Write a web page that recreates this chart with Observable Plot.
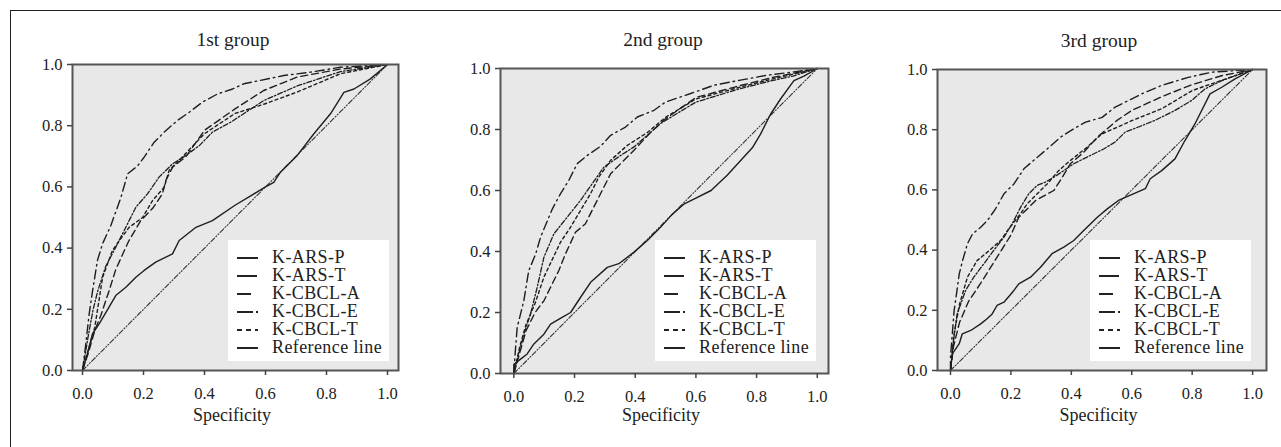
<!DOCTYPE html>
<html><head><meta charset="utf-8">
<script src="https://cdn.jsdelivr.net/npm/d3@7"></script>
<script src="https://cdn.jsdelivr.net/npm/@observablehq/plot@0.6"></script>
<style>
body{margin:0;background:#fff;}
#root{position:relative;width:1281px;height:447px;overflow:hidden;font-family:'Liberation Serif','Times New Roman',serif;color:#222;}
.frameline{position:absolute;left:10px;top:10px;width:1300px;height:460px;border-left:1.5px solid #222;border-top:1.5px solid #222;}
.lbl{position:absolute;font-size:18px;transform:translate(-50%,-50%);white-space:nowrap;}
.ttl{font-size:19.5px;}
.legend{position:absolute;background:#fff;width:161px;height:121px;}
.row{position:absolute;height:18px;font-size:18px;line-height:18px;white-space:nowrap;letter-spacing:0.4px;}
.plot{position:absolute;}
.plot text{font-family:'Liberation Serif','Times New Roman',serif;font-size:16.5px;}
</style></head><body><div id="root"><div class="frameline"></div></div>
<script>
const tickValues = [0, 0.2, 0.4, 0.6, 0.8, 1.0];
const groupTitles = ["1st group", "2nd group", "3rd group"];
const xLabel = "Specificity";
const seriesNames = ["K-ARS-P", "K-ARS-T", "K-CBCL-A", "K-CBCL-E", "K-CBCL-T", "Reference line"];
const referenceLine = [[0,0],[1,1]];

const g1_arsP = [[0,0],[0.016,0.055],[0.033,0.12],[0.055,0.153],[0.087,0.207],[0.109,0.245],[0.142,0.272],[0.175,0.305],[0.202,0.327],[0.24,0.354],[0.295,0.381],[0.317,0.425],[0.372,0.468],[0.426,0.49],[0.5,0.54],[0.55,0.57],[0.6,0.6],[0.627,0.615],[0.649,0.648],[0.704,0.703],[0.758,0.773],[0.813,0.839],[0.857,0.909],[0.89,0.92],[0.944,0.953],[1,1]];
const g1_arsT = [[0,0],[0.01,0.06],[0.02,0.12],[0.035,0.2],[0.05,0.26],[0.076,0.34],[0.109,0.403],[0.142,0.468],[0.175,0.534],[0.213,0.577],[0.251,0.632],[0.295,0.675],[0.339,0.703],[0.383,0.735],[0.426,0.779],[0.485,0.811],[0.594,0.882],[0.704,0.93],[0.846,0.977],[1,1]];
const g1_cbclA = [[0,0],[0.02,0.06],[0.04,0.13],[0.06,0.18],[0.087,0.26],[0.109,0.33],[0.15,0.42],[0.191,0.49],[0.23,0.53],[0.262,0.577],[0.273,0.621],[0.295,0.664],[0.34,0.7],[0.4,0.785],[0.5,0.855],[0.594,0.915],[0.704,0.959],[0.846,0.985],[1,1]];
const g1_cbclE = [[0,0],[0.01,0.08],[0.022,0.186],[0.033,0.26],[0.049,0.36],[0.066,0.415],[0.093,0.474],[0.126,0.566],[0.148,0.643],[0.18,0.668],[0.202,0.697],[0.235,0.746],[0.268,0.779],[0.311,0.817],[0.35,0.844],[0.393,0.877],[0.443,0.904],[0.492,0.92],[0.529,0.937],[0.66,0.964],[0.748,0.975],[0.846,0.991],[1,1]];
const g1_cbclT = [[0,0],[0.02,0.07],[0.04,0.14],[0.066,0.305],[0.098,0.392],[0.125,0.43],[0.153,0.468],[0.197,0.5],[0.23,0.556],[0.268,0.599],[0.284,0.654],[0.32,0.69],[0.4,0.774],[0.5,0.84],[0.594,0.87],[0.704,0.91],[0.846,0.97],[1,1]];

const g2_arsP = [[0,0],[0,0.03],[0.022,0.047],[0.044,0.064],[0.066,0.097],[0.099,0.129],[0.121,0.162],[0.159,0.184],[0.187,0.2],[0.22,0.25],[0.253,0.299],[0.308,0.348],[0.346,0.36],[0.396,0.398],[0.44,0.436],[0.484,0.48],[0.52,0.52],[0.56,0.555],[0.6,0.575],[0.65,0.6],[0.703,0.65],[0.758,0.71],[0.786,0.74],[0.813,0.785],[0.846,0.85],[0.879,0.9],[0.923,0.96],[0.956,0.975],[1,1]];
const g2_arsT = [[0,0],[0.02,0.08],[0.04,0.15],[0.055,0.195],[0.077,0.283],[0.099,0.381],[0.132,0.458],[0.176,0.513],[0.22,0.568],[0.258,0.622],[0.297,0.677],[0.352,0.715],[0.396,0.743],[0.44,0.781],[0.484,0.82],[0.55,0.86],[0.6,0.89],[0.75,0.935],[0.85,0.96],[0.92,0.975],[1,1]];
const g2_cbclA = [[0,0],[0.02,0.07],[0.04,0.14],[0.07,0.2],[0.1,0.24],[0.121,0.283],[0.148,0.337],[0.17,0.392],[0.203,0.463],[0.236,0.491],[0.258,0.535],[0.286,0.59],[0.319,0.655],[0.396,0.732],[0.45,0.79],[0.5,0.835],[0.6,0.905],[0.75,0.945],[0.85,0.97],[1,1]];
const g2_cbclE = [[0,0],[0.005,0.075],[0.011,0.151],[0.033,0.239],[0.049,0.337],[0.072,0.392],[0.088,0.447],[0.127,0.54],[0.154,0.59],[0.181,0.633],[0.209,0.688],[0.242,0.715],[0.286,0.745],[0.319,0.781],[0.368,0.808],[0.407,0.841],[0.462,0.863],[0.5,0.89],[0.583,0.918],[0.659,0.945],[0.747,0.962],[0.835,0.978],[0.923,0.989],[1,1]];
const g2_cbclT = [[0,0],[0.02,0.09],[0.04,0.16],[0.07,0.23],[0.099,0.316],[0.154,0.431],[0.187,0.48],[0.22,0.535],[0.253,0.59],[0.28,0.644],[0.319,0.699],[0.374,0.748],[0.44,0.79],[0.5,0.84],[0.6,0.9],[0.75,0.94],[0.85,0.965],[1,1]];

const g3_arsP = [[0,0],[0.006,0.055],[0.029,0.089],[0.039,0.122],[0.067,0.133],[0.1,0.155],[0.121,0.172],[0.138,0.188],[0.154,0.216],[0.177,0.227],[0.21,0.266],[0.226,0.288],[0.265,0.31],[0.298,0.343],[0.336,0.388],[0.375,0.41],[0.408,0.432],[0.441,0.465],[0.486,0.509],[0.519,0.537],[0.556,0.565],[0.645,0.604],[0.661,0.637],[0.699,0.664],[0.743,0.703],[0.776,0.764],[0.809,0.819],[0.859,0.919],[0.898,0.941],[0.942,0.969],[1,1]];
const g3_arsT = [[0,0],[0.01,0.1],[0.022,0.188],[0.05,0.266],[0.077,0.31],[0.11,0.354],[0.143,0.399],[0.177,0.443],[0.204,0.487],[0.232,0.542],[0.259,0.587],[0.287,0.615],[0.314,0.626],[0.342,0.642],[0.375,0.664],[0.408,0.687],[0.452,0.709],[0.507,0.736],[0.545,0.759],[0.578,0.792],[0.622,0.809],[0.677,0.831],[0.743,0.864],[0.798,0.897],[0.843,0.936],[0.898,0.963],[1,1]];
const g3_cbclA = [[0,0],[0.01,0.08],[0.03,0.16],[0.06,0.23],[0.1,0.29],[0.15,0.37],[0.2,0.45],[0.226,0.509],[0.282,0.565],[0.342,0.598],[0.37,0.642],[0.397,0.687],[0.441,0.725],[0.486,0.775],[0.55,0.83],[0.6,0.864],[0.7,0.91],[0.8,0.95],[0.9,0.98],[1,1]];
const g3_cbclE = [[0,0],[0,0.044],[0.012,0.199],[0.023,0.277],[0.029,0.321],[0.04,0.365],[0.056,0.421],[0.073,0.454],[0.1,0.476],[0.122,0.498],[0.149,0.537],[0.177,0.587],[0.21,0.62],[0.243,0.67],[0.281,0.703],[0.32,0.736],[0.364,0.775],[0.408,0.803],[0.447,0.825],[0.502,0.841],[0.545,0.875],[0.633,0.919],[0.699,0.947],[0.787,0.974],[0.864,0.991],[1,1]];
const g3_cbclT = [[0,0],[0.012,0.122],[0.03,0.22],[0.056,0.31],[0.088,0.365],[0.13,0.4],[0.166,0.432],[0.193,0.471],[0.232,0.521],[0.254,0.554],[0.287,0.587],[0.32,0.62],[0.358,0.664],[0.397,0.698],[0.45,0.74],[0.5,0.785],[0.6,0.83],[0.7,0.87],[0.8,0.93],[0.9,0.965],[1,1]];

const lineStyles = [
  {dash: null, width: 1.4},
  {dash: "5,2,1.5,2", width: 1.3},
  {dash: "7,4", width: 1.4},
  {dash: "9,4,1.5,4", width: 1.4},
  {dash: "3,3", width: 1.4},
  {dash: "5,2,1,2,1,2", width: 1.1}
];
const legendSwatch = [
  {dash: null, len: 21},
  {dash: null, len: 20},
  {dash: null, len: 14},
  {dash: "16,3,2,3", len: 21},
  {dash: "5,4", len: 21},
  {dash: null, len: 21}
];

const panels = [
  {series: [g1_arsP, g1_arsT, g1_cbclA, g1_cbclE, g1_cbclT], left: 12, top: 54, width: 398, height: 360, mL: 60, mR: 12, mT: 10, mB: 44, xdom: [-0.0328, 1.036], legL: 228, legT: 240, titleX: 233, titleY: 40},
  {series: [g2_arsP, g2_arsT, g2_cbclA, g2_cbclE, g2_cbclT], left: 440, top: 58, width: 400, height: 360, mL: 60, mR: 12, mT: 10, mB: 45, xdom: [-0.044, 1.037], legL: 655, legT: 240, titleX: 663, titleY: 40},
  {series: [g3_arsP, g3_arsT, g3_cbclA, g3_cbclE, g3_cbclT], left: 877, top: 59, width: 401, height: 360, mL: 60, mR: 12, mT: 10, mB: 49, xdom: [-0.043, 1.046], legL: 1090, legT: 240, titleX: 1099, titleY: 41}
];

const root = document.getElementById("root");
const fmt = d3.format(".1f");

panels.forEach((p, i) => {
  const lines = p.series.map((s, k) => Plot.line(s, {
    x: d => d[0], y: d => d[1],
    stroke: "#1e1e1e", strokeWidth: lineStyles[k].width,
    strokeDasharray: lineStyles[k].dash || undefined
  }));
  const chart = Plot.plot({
    width: p.width, height: p.height,
    marginLeft: p.mL, marginRight: p.mR, marginTop: p.mT, marginBottom: p.mB,
    x: {domain: p.xdom},
    y: {domain: [0, 1]},
    style: {fontSize: "16.5px", color: "#222", background: "transparent", overflow: "visible"},
    marks: [
      Plot.frame({fill: "#e8e8e8"}),
      Plot.line(referenceLine, {x: d => d[0], y: d => d[1], stroke: "#333", strokeWidth: lineStyles[5].width, strokeDasharray: lineStyles[5].dash}),
      ...lines,
      Plot.frame({stroke: "#555", strokeWidth: 2}),
      Plot.axisX({ticks: tickValues, tickFormat: fmt, tickSize: 5, tickPadding: 12, label: null, stroke: "#444", strokeWidth: 1.5}),
      Plot.axisY({ticks: tickValues, tickFormat: fmt, tickSize: 5, tickPadding: 5, label: null, stroke: "#444", strokeWidth: 1.5})
    ]
  });
  chart.classList.add("plot");
  chart.style.left = p.left + "px";
  chart.style.top = p.top + "px";
  root.appendChild(chart);

  const t = document.createElement("div");
  t.className = "lbl ttl"; t.textContent = groupTitles[i];
  t.style.left = p.titleX + "px"; t.style.top = p.titleY + "px";
  root.appendChild(t);

  const frameCx = p.left + p.mL + (p.width - p.mL - p.mR) / 2;
  const xl = document.createElement("div");
  xl.className = "lbl"; xl.textContent = xLabel;
  xl.style.left = (frameCx - 3) + "px"; xl.style.top = "415px";
  root.appendChild(xl);

  const leg = document.createElement("div");
  leg.className = "legend";
  leg.style.left = p.legL + "px"; leg.style.top = p.legT + "px";
  seriesNames.forEach((name, k) => {
    const row = document.createElement("div");
    row.className = "row";
    row.style.left = "9px"; row.style.top = (9 + k * 18) + "px";
    const sw = legendSwatch[k];
    row.innerHTML = `<svg width="24" height="18" style="position:absolute;left:0;top:0"><line x1="0" x2="${sw.len}" y1="9" y2="9" stroke="#222" stroke-width="2" ${sw.dash ? `stroke-dasharray="${sw.dash}"` : ""}/></svg><span style="position:absolute;left:35px;top:-1px">${name}</span>`;
    leg.appendChild(row);
  });
  root.appendChild(leg);
});
</script></body></html>
